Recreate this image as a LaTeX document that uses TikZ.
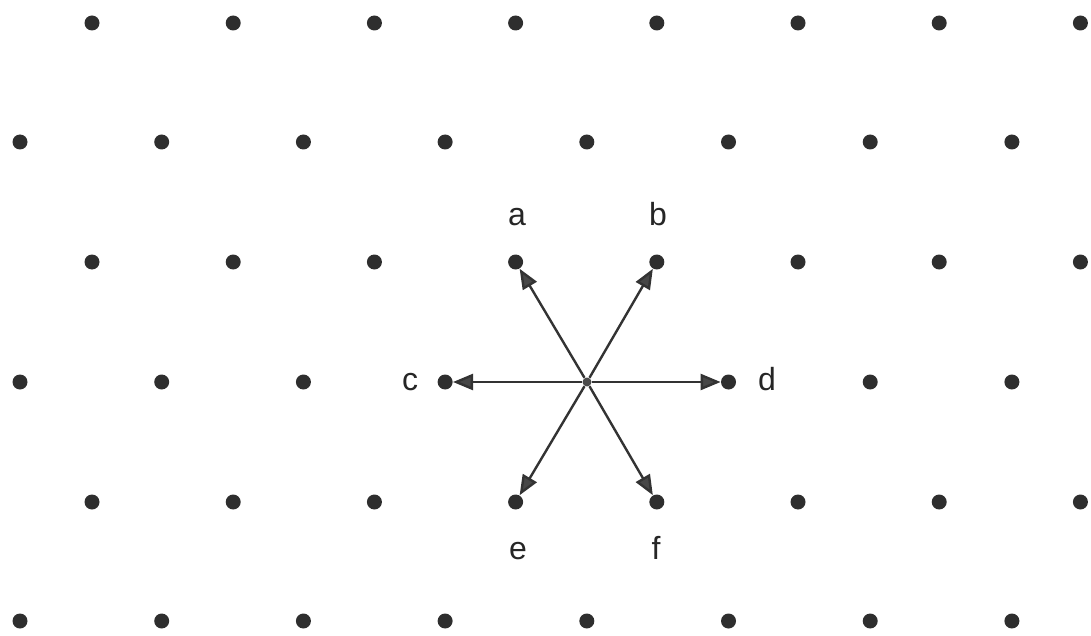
\documentclass[tikz,border=0pt]{standalone}
\usepackage{fontspec}
\setmainfont{Liberation Sans}
\usetikzlibrary{arrows.meta}
\begin{document}
\begin{tikzpicture}[x=0.5pt,y=-0.5pt,
  dot/.style={circle,fill=black!82,inner sep=0pt,minimum size=7.5pt},
  hub/.style={circle,fill=black!70,inner sep=0pt,minimum size=4.5pt},
  vec/.style={line width=1.2pt,draw=black!80,-{Triangle[length=10pt,width=8pt,fill=black!72]}},
  lbl/.style={font=\fontsize{16}{18}\selectfont,text=black!85,anchor=base}]
\useasboundingbox (0,0) rectangle (1091,636);
% odd rows
\foreach \r/\y in {1/23,3/262,5/502}{
  \foreach \k in {0,...,7}{
    \node[dot] (p\r-\k) at ({92+141.2*\k},\y) {};
  }
}
% even rows
\foreach \r/\y in {2/142,4/382,6/621}{
  \foreach \k in {0,...,7}{
    \ifnum\r=4 \ifnum\k=4 \else \node[dot] (p\r-\k) at ({20+141.7*\k},\y) {};\fi
    \else \node[dot] (p\r-\k) at ({20+141.7*\k},\y) {};\fi
  }
}
\node[hub] (o) at (587,382) {};
\foreach \t in {p3-3,p3-4,p4-3,p4-5,p5-3,p5-4}{
  \draw[vec] (o) -- (\t);
}
\node[lbl] (la) at (517,226) {a};
\node[lbl] (lb) at (658,226) {b};
\node[lbl] (lc) at (410,390) {c};
\node[lbl] (ld) at (767,390) {d};
\node[lbl] (le) at (518,559) {e};
\node[lbl] (lf) at (656,559) {f};
\end{tikzpicture}
\end{document}
